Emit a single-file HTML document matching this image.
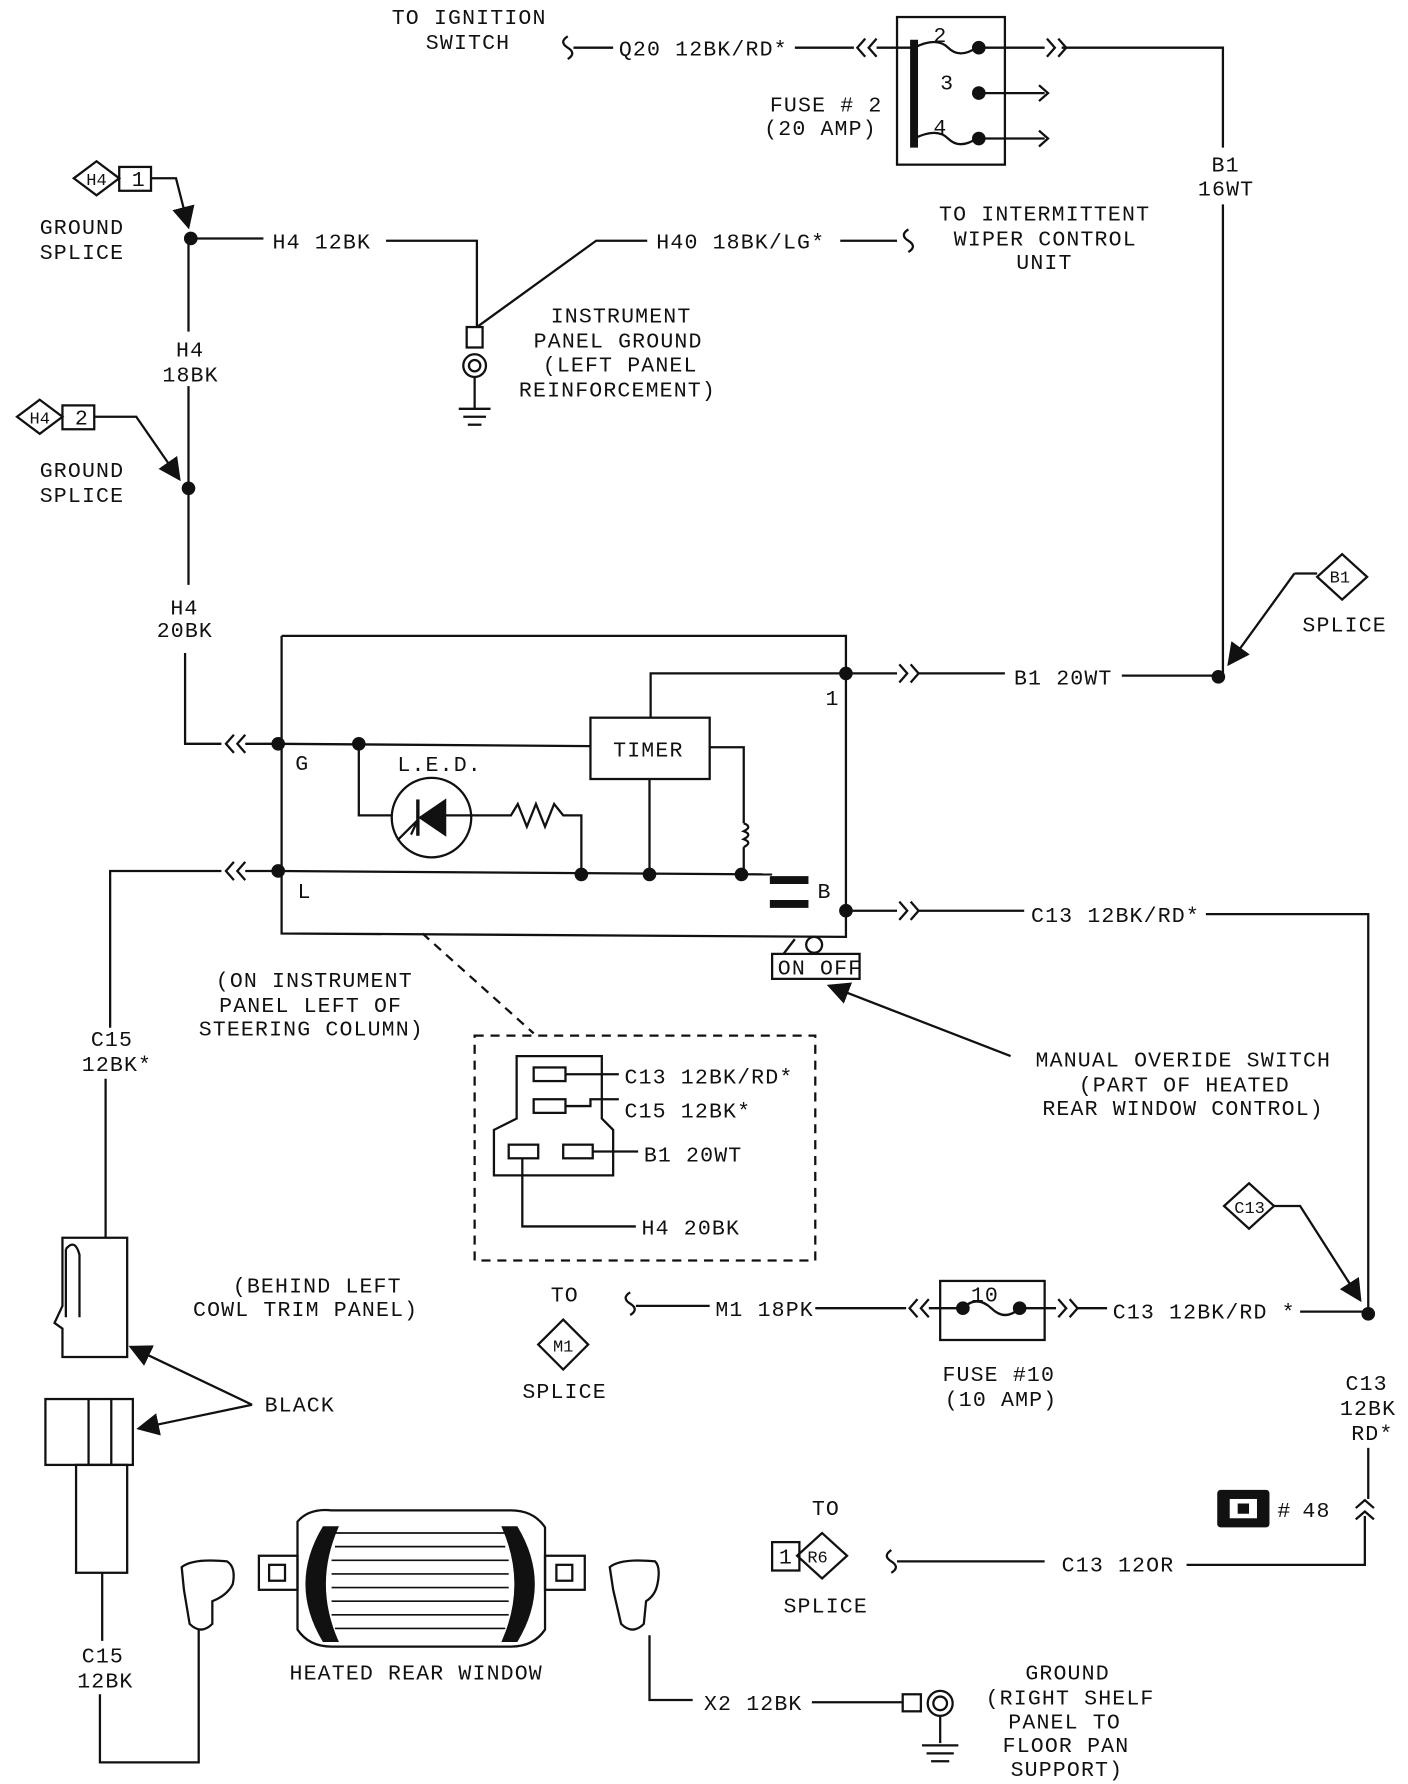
<!DOCTYPE html>
<html><head><meta charset="utf-8"><style>
html,body{margin:0;padding:0;background:#fff}
svg{display:block}
text{font-family:"Liberation Mono",monospace;font-size:19px;fill:#111;letter-spacing:1px}
.s{font-size:15px;letter-spacing:0}
</style></head><body>
<svg width="1408" height="1784" viewBox="0 0 1240 1571" preserveAspectRatio="none" xmlns="http://www.w3.org/2000/svg">
<defs>
<marker id="ah" markerWidth="10" markerHeight="10" refX="9" refY="5" orient="auto"><path d="M0,0 L10,5 L0,10 z" fill="#111"/></marker>
</defs>
<g stroke="#111" stroke-width="2" fill="none">
<path d="M500,32 q-8,5 0,10 q8,5 0,10"/>
<line x1="505" y1="42" x2="540" y2="42"/>
<line x1="700" y1="42" x2="752" y2="42"/>
<path d="M762,34 l-7,8 l7,8 M772,34 l-7,8 l7,8"/>
<rect x="790" y="15" width="95" height="130"/>
<line x1="805" y1="35" x2="805" y2="130" stroke-width="7"/>
<line x1="772" y1="42" x2="805" y2="42"/>
<path d="M805,42 q20,-10 30,0 q10,10 25,0"/>
<path d="M805,122 q20,-10 30,0 q10,10 25,0"/>
<line x1="862" y1="82" x2="920" y2="82"/><path d="M915,75 l8,7 l-8,7"/>
<line x1="862" y1="122" x2="920" y2="122"/><path d="M915,115 l8,7 l-8,7"/>
<line x1="862" y1="42" x2="920" y2="42"/>
<path d="M922,34 l7,8 l-7,8 M932,34 l7,8 l-7,8"/>
<polyline points="935,42 1077,42 1077,130"/>
<line x1="1077" y1="180" x2="1077" y2="595"/>
<path d="M85,142 l20,15 l-20,15 l-20,-15 z"/>
<rect x="105" y="147" width="28" height="21"/>
<path d="M133,157 L155,157 L166,200" marker-end="url(#ah)"/>
<line x1="168" y1="210" x2="232" y2="210"/>
<polyline points="340,212 420,212 420,288"/>
<rect x="411" y="288" width="14" height="18"/>
<circle cx="418" cy="322" r="10"/><circle cx="418" cy="322" r="5"/>
<line x1="418" y1="332" x2="418" y2="360"/>
<line x1="404" y1="360" x2="432" y2="360"/><line x1="408" y1="367" x2="428" y2="367"/><line x1="412" y1="374" x2="424" y2="374"/>
<polyline points="420,288 525,212 570,212"/>
<line x1="740" y1="212" x2="790" y2="212"/>
<path d="M800,202 q-8,5 0,10 q8,5 0,10"/>
<line x1="166" y1="210" x2="166" y2="292"/>
<line x1="166" y1="340" x2="166" y2="515"/>
<path d="M35,352 l20,15 l-20,15 l-20,-15 z"/>
<rect x="55" y="357" width="28" height="21"/>
<path d="M83,367 L120,367 L158,422" marker-end="url(#ah)"/>
<polyline points="163,575 163,655 195,655"/>
<path d="M206,647 l-7,8 l7,8 M216,647 l-7,8 l7,8"/>
<line x1="216" y1="655" x2="245" y2="655"/>
<polyline points="248,560 745,560 745,802"/>
<polyline points="248,560 248,822 745,825 745,802"/>
<line x1="245" y1="655" x2="520" y2="657"/>
<rect x="520" y="632" width="105" height="54"/>
<polyline points="573,632 573,593 745,593"/>
<line x1="572" y1="686" x2="572" y2="770"/>
<polyline points="625,658 655,658 655,725"/>
<path d="M655,725 q8,3 0,7 q8,3 0,7 q8,3 0,7 M655,746 L655,770"/>
<polyline points="316,655 316,718 345,718"/>
<circle cx="380" cy="720" r="35"/>
<path d="M392,705 L370,720 L392,735 z" fill="#111"/>
<line x1="368" y1="704" x2="368" y2="736" stroke-width="3"/>
<path d="M350,740 L368,722 L362,735"/>
<polyline points="392,718 450,718 456,708 464,728 472,708 480,728 488,708 496,718 512,718 512,770"/>
<line x1="245" y1="767" x2="680" y2="770"/>
<line x1="678" y1="775" x2="712" y2="775" stroke-width="7"/>
<line x1="678" y1="796" x2="712" y2="796" stroke-width="7"/>
<line x1="745" y1="593" x2="790" y2="593"/>
<path d="M792,585 l7,8 l-7,8 M802,585 l7,8 l-7,8"/>
<line x1="809" y1="593" x2="885" y2="593"/>
<line x1="988" y1="595" x2="1075" y2="595"/>
<path d="M1140,505 L1160,505 M1140,505 L1082,585" marker-end="url(#ah)"/>
<path d="M1182,488 l22,20 l-22,20 l-22,-20 z"/>
<line x1="745" y1="802" x2="790" y2="802"/>
<path d="M792,794 l7,8 l-7,8 M802,794 l7,8 l-7,8"/>
<line x1="809" y1="802" x2="902" y2="802"/>
<polyline points="1062,805 1205,805 1205,1155"/>
<rect x="680" y="840" width="77" height="22"/>
<circle cx="717" cy="832" r="7"/>
<line x1="690" y1="840" x2="700" y2="827"/>
<path d="M890,930 L730,868" marker-end="url(#ah)"/>
<line x1="372" y1="822" x2="470" y2="910" stroke-dasharray="8,6"/>
<rect x="418" y="912" width="300" height="198" stroke-dasharray="8,6"/>
<path d="M455,930 L530,930 L530,985 L540,995 L540,1035 L435,1035 L435,995 L455,985 z"/>
<rect x="470" y="940" width="28" height="12"/><rect x="470" y="968" width="28" height="12"/>
<rect x="448" y="1008" width="26" height="12"/><rect x="496" y="1008" width="26" height="12"/>
<line x1="498" y1="946" x2="545" y2="946"/>
<polyline points="498,974 520,974 520,968 545,968"/>
<line x1="522" y1="1014" x2="562" y2="1014"/>
<polyline points="460,1020 460,1080 560,1080"/>
<polyline points="195,767 97,767 97,905"/>
<path d="M206,759 l-7,8 l7,8 M216,759 l-7,8 l7,8"/>
<line x1="216" y1="767" x2="245" y2="767"/>
<line x1="93" y1="950" x2="93" y2="1090"/>
<path d="M55,1090 L112,1090 L112,1195 L55,1195 L55,1170 L48,1165 L55,1150 z"/>
<path d="M58,1100 L58,1160 M58,1100 q8,-10 12,5 L70,1160"/>
<path d="M222,1237 L115,1186" marker-end="url(#ah)"/>
<path d="M222,1237 L122,1258" marker-end="url(#ah)"/>
<rect x="40" y="1232" width="77" height="58"/>
<line x1="78" y1="1232" x2="78" y2="1290"/><line x1="98" y1="1232" x2="98" y2="1290"/>
<rect x="67" y="1290" width="45" height="95"/>
<line x1="90" y1="1385" x2="90" y2="1445"/>
<polyline points="88,1492 88,1552 175,1552 175,1435"/>
<path d="M160,1380 q10,-8 40,-5 q8,5 5,20 q-5,10 -18,15 L187,1430 q-10,10 -20,0 L162,1400 z"/>
<rect x="228" y="1370" width="34" height="30"/><rect x="237" y="1378" width="14" height="14"/>
<path d="M262,1340 q10,-12 30,-10 L450,1330 q20,0 30,15 L480,1435 q-10,15 -30,15 L292,1450 q-20,0 -30,-15 z"/>
<path d="M285,1345 q-30,50 0,100 l12,0 q-22,-50 0,-100 z" fill="#111"/>
<path d="M455,1345 q30,50 0,100 l-12,0 q22,-50 0,-100 z" fill="#111"/>
<g stroke-width="1.5"><line x1="295" y1="1350" x2="445" y2="1350"/><line x1="295" y1="1362" x2="445" y2="1362"/><line x1="292" y1="1374" x2="448" y2="1374"/><line x1="292" y1="1386" x2="448" y2="1386"/><line x1="292" y1="1398" x2="448" y2="1398"/><line x1="292" y1="1410" x2="448" y2="1410"/><line x1="292" y1="1422" x2="448" y2="1422"/><line x1="295" y1="1434" x2="445" y2="1434"/></g>
<rect x="480" y="1370" width="35" height="30"/><rect x="490" y="1378" width="14" height="14"/>
<path d="M537,1380 q10,-8 40,-5 q5,5 2,20 q-2,10 -10,15 L567,1430 q-10,10 -20,0 L540,1400 z"/>
<polyline points="572,1440 572,1497 610,1497"/>
<line x1="715" y1="1499" x2="795" y2="1499"/>
<rect x="795" y="1492" width="16" height="15"/>
<circle cx="828" cy="1500" r="11"/><circle cx="828" cy="1500" r="6"/>
<line x1="828" y1="1511" x2="828" y2="1535"/>
<line x1="812" y1="1537" x2="844" y2="1537"/><line x1="816" y1="1544" x2="840" y2="1544"/><line x1="820" y1="1551" x2="836" y2="1551"/>
<path d="M555,1138 q-8,5 0,10 q8,5 0,10"/>
<line x1="560" y1="1150" x2="625" y2="1150"/>
<line x1="718" y1="1152" x2="798" y2="1152"/>
<path d="M808,1144 l-7,8 l7,8 M818,1144 l-7,8 l7,8"/>
<rect x="828" y="1128" width="92" height="52"/>
<line x1="818" y1="1152" x2="848" y2="1152"/>
<path d="M848,1152 q12,-12 25,0 q12,12 25,0"/>
<line x1="898" y1="1152" x2="930" y2="1152"/>
<path d="M932,1144 l7,8 l-7,8 M942,1144 l7,8 l-7,8"/>
<line x1="948" y1="1152" x2="975" y2="1152"/>
<line x1="1145" y1="1155" x2="1205" y2="1155"/>
<path d="M496,1162 l22,22 l-22,22 l-22,-22 z"/>
<path d="M1100,1042 l22,20 l-22,20 l-22,-20 z"/>
<path d="M1122,1062 L1145,1062 L1198,1145" marker-end="url(#ah)"/>
<line x1="1205" y1="1275" x2="1205" y2="1320"/>
<path d="M1194,1328 l8,-7 l8,7 M1194,1338 l8,-7 l8,7"/>
<polyline points="1202,1335 1202,1378 1045,1378"/>
<line x1="790" y1="1375" x2="920" y2="1375"/>
<path d="M785,1365 q-8,5 0,10 q8,5 0,10"/>
<path d="M724,1350 l22,20 l-22,20 l-22,-20 z"/>
<rect x="680" y="1358" width="24" height="25"/>
</g>
<g fill="#111">
<circle cx="862" cy="42" r="6"/><circle cx="862" cy="82" r="6"/><circle cx="862" cy="122" r="6"/>
<circle cx="168" cy="210" r="6"/><circle cx="166" cy="430" r="6"/>
<circle cx="245" cy="655" r="6"/><circle cx="316" cy="655" r="6"/><circle cx="245" cy="767" r="6"/>
<circle cx="512" cy="770" r="6"/><circle cx="572" cy="770" r="6"/><circle cx="653" cy="770" r="6"/>
<circle cx="745" cy="593" r="6"/><circle cx="745" cy="802" r="6"/><circle cx="1073" cy="596" r="6"/>
<circle cx="848" cy="1152" r="6"/><circle cx="898" cy="1152" r="6"/><circle cx="1205" cy="1157" r="6"/>
<rect x="1072" y="1312" width="46" height="33" rx="3"/>
</g>
<rect x="1083" y="1320" width="24" height="17" fill="#fff"/><rect x="1090" y="1324" width="10" height="9" fill="#111"/>
<text x="345" y="21">TO IGNITION</text><text x="375" y="43">SWITCH</text>
<text x="545" y="49">Q20 12BK/RD*</text>
<text x="822" y="37" font-size="16">2</text><text x="828" y="79" font-size="16">3</text><text x="822" y="118" font-size="16">4</text>
<text x="678" y="98">FUSE # 2</text><text x="673" y="119">(20 AMP)</text>
<text x="1067" y="151">B1</text><text x="1055" y="172">16WT</text>
<text x="76" y="163" class="s">H4</text><text x="116" y="164" font-size="17">1</text>
<text x="35" y="206">GROUND</text><text x="35" y="228">SPLICE</text>
<text x="240" y="219">H4 12BK</text>
<text x="578" y="219">H40 18BK/LG*</text>
<text x="827" y="194">TO INTERMITTENT</text><text x="840" y="216">WIPER CONTROL</text><text x="895" y="237">UNIT</text>
<text x="485" y="284">INSTRUMENT</text><text x="470" y="306">PANEL GROUND</text><text x="478" y="327">(LEFT PANEL</text><text x="457" y="349">REINFORCEMENT)</text>
<text x="155" y="314">H4</text><text x="143" y="336">18BK</text>
<text x="26" y="373" class="s">H4</text><text x="66" y="374" font-size="17">2</text>
<text x="35" y="420">GROUND</text><text x="35" y="442">SPLICE</text>
<text x="150" y="541">H4</text><text x="138" y="561">20BK</text>
<text x="1171" y="513" class="s">B1</text><text x="1147" y="556">SPLICE</text>
<text x="893" y="603">B1 20WT</text>
<text x="727" y="621" font-size="16">1</text>
<text x="540" y="666">TIMER</text>
<text x="350" y="679">L.E.D.</text>
<text x="260" y="678">G</text><text x="262" y="791">L</text><text x="720" y="791">B</text>
<text x="908" y="812">C13 12BK/RD*</text>
<text x="685" y="858" font-size="17">ON OFF</text>
<text x="190" y="869">(ON INSTRUMENT</text><text x="193" y="891">PANEL LEFT OF</text><text x="175" y="912">STEERING COLUMN)</text>
<text x="80" y="921">C15</text><text x="72" y="943">12BK*</text>
<text x="912" y="939">MANUAL OVERIDE SWITCH</text><text x="950" y="961">(PART OF HEATED</text><text x="918" y="982">REAR WINDOW CONTROL)</text>
<text x="550" y="954">C13 12BK/RD*</text><text x="550" y="984">C15 12BK*</text>
<text x="567" y="1023">B1 20WT</text><text x="565" y="1087">H4 20BK</text>
<text x="1087" y="1068" class="s">C13</text>
<text x="205" y="1138">(BEHIND LEFT</text><text x="170" y="1159">COWL TRIM PANEL)</text>
<text x="485" y="1146">TO</text><text x="487" y="1190" class="s">M1</text><text x="460" y="1231">SPLICE</text>
<text x="630" y="1159">M1 18PK</text>
<text x="855" y="1146" font-size="17">10</text>
<text x="980" y="1161">C13 12BK/RD *</text>
<text x="830" y="1216">FUSE #10</text><text x="832" y="1238">(10 AMP)</text>
<text x="1185" y="1224">C13</text><text x="1180" y="1246">12BK</text><text x="1190" y="1268">RD*</text>
<text x="233" y="1243">BLACK</text>
<text x="1125" y="1336">#</text><text x="1147" y="1336">48</text>
<text x="715" y="1334">TO</text><text x="686" y="1377" font-size="17">1</text><text x="711" y="1376" class="s">R6</text>
<text x="935" y="1384">C13 12OR</text><text x="690" y="1420">SPLICE</text>
<text x="72" y="1464">C15</text><text x="68" y="1486">12BK</text>
<text x="255" y="1479">HEATED REAR WINDOW</text>
<text x="620" y="1506">X2 12BK</text>
<text x="903" y="1479">GROUND</text><text x="868" y="1501">(RIGHT SHELF</text><text x="888" y="1522">PANEL TO</text><text x="883" y="1543">FLOOR PAN</text><text x="890" y="1564">SUPPORT)</text>
</svg>
</body></html>
